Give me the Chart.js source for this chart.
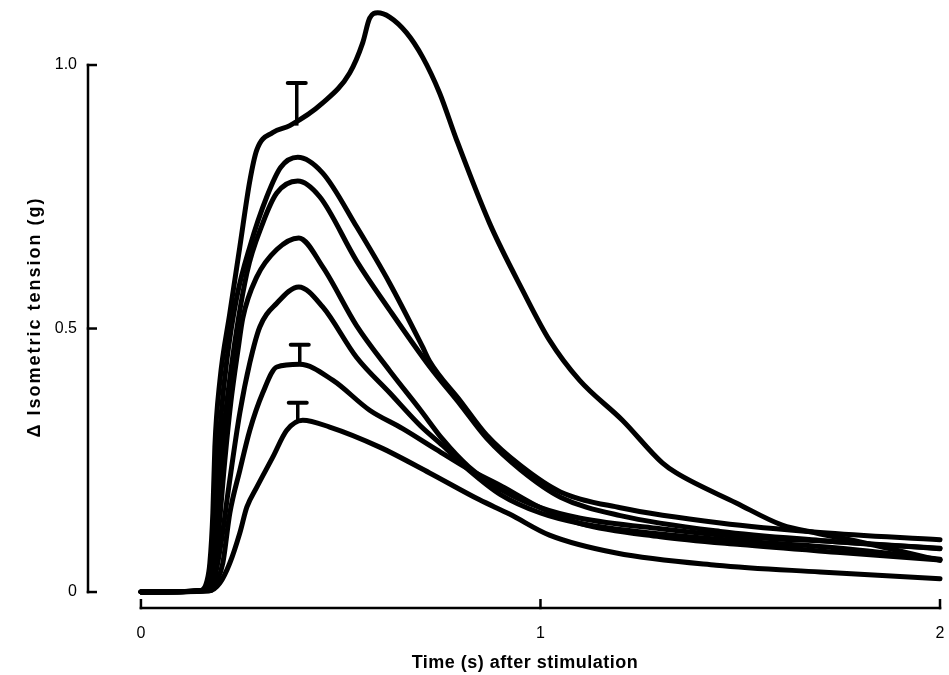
<!DOCTYPE html>
<html>
<head>
<meta charset="utf-8">
<script src="https://cdn.jsdelivr.net/npm/chart.js@4.4.1/dist/chart.umd.min.js"></script>
<style>
html,body{margin:0;padding:0;background:#fff;}
#wrap{width:949px;height:675px;position:relative;}
</style>
</head>
<body>
<div id="wrap"><canvas id="c" width="949" height="675"></canvas></div>
<script>
// ---------- data (time in s, tension in g) ----------
const tA = [0, 0.15, 0.165, 0.1725, 0.18, 0.185, 0.1975, 0.2225, 0.2475, 0.2725, 0.29, 0.33, 0.3725, 0.455, 0.5225, 0.555, 0.5725, 0.5925, 0.6225, 0.665, 0.705, 0.7475, 0.79, 0.8725, 0.955, 1.0225, 1.0975, 1.205, 1.305, 1.34, 1.49, 1.605, 1.69, 1.8, 2.0];
const vA = [0, 0.003, 0.02, 0.055, 0.15, 0.275, 0.40, 0.529, 0.655, 0.78, 0.839, 0.872, 0.885, 0.928, 0.985, 1.042, 1.089, 1.099, 1.091, 1.061, 1.015, 0.947, 0.858, 0.70, 0.573, 0.478, 0.402, 0.326, 0.245, 0.226, 0.169, 0.127, 0.112, 0.095, 0.06];

const tB = [0, 0.155, 0.17, 0.18, 0.19, 0.2, 0.215, 0.24, 0.2725, 0.315, 0.35, 0.3925, 0.455, 0.54, 0.6225, 0.705, 0.7225, 0.8, 0.865, 0.95, 1.05, 1.2, 1.45, 1.7, 2.0];
const vB = [0, 0.003, 0.03, 0.1, 0.22, 0.33, 0.44, 0.56, 0.655, 0.75, 0.806, 0.825, 0.795, 0.693, 0.586, 0.465, 0.438, 0.362, 0.298, 0.24, 0.19, 0.16, 0.131, 0.113, 0.099];

const tC = [0, 0.158, 0.175, 0.188, 0.2, 0.225, 0.265, 0.305, 0.34, 0.3925, 0.4475, 0.54, 0.6225, 0.7225, 0.8, 0.865, 0.95, 1.05, 1.2, 1.45, 1.7, 2.0];
const vC = [0, 0.003, 0.03, 0.12, 0.25, 0.42, 0.605, 0.70, 0.757, 0.78, 0.75, 0.628, 0.535, 0.428, 0.355, 0.292, 0.232, 0.18, 0.145, 0.115, 0.098, 0.082];

const tD = [0, 0.16, 0.18, 0.195, 0.21, 0.225, 0.243, 0.255, 0.29, 0.34, 0.395, 0.455, 0.54, 0.6225, 0.7, 0.755, 0.82, 0.9, 1.0, 1.1, 1.3, 1.5, 1.75, 2.0];
const vD = [0, 0.003, 0.03, 0.12, 0.25, 0.36, 0.46, 0.52, 0.598, 0.65, 0.672, 0.617, 0.505, 0.42, 0.345, 0.29, 0.238, 0.195, 0.16, 0.14, 0.12, 0.105, 0.095, 0.083];

const tE = [0, 0.165, 0.185, 0.2, 0.22, 0.2475, 0.2725, 0.2975, 0.34, 0.395, 0.455, 0.54, 0.6225, 0.7, 0.755, 0.82, 0.9, 1.0, 1.1, 1.3, 1.5, 1.75, 2.0];
const vE = [0, 0.003, 0.03, 0.09, 0.2, 0.34, 0.435, 0.503, 0.548, 0.579, 0.541, 0.445, 0.378, 0.315, 0.278, 0.232, 0.185, 0.15, 0.13, 0.11, 0.097, 0.083, 0.062];

const tF = [0, 0.175, 0.19, 0.205, 0.2225, 0.2475, 0.2725, 0.305, 0.34, 0.3975, 0.48, 0.5725, 0.655, 0.74, 0.8225, 0.905, 1.0, 1.1, 1.3, 1.5, 1.75, 2.0];
const vF = [0, 0.003, 0.02, 0.055, 0.15, 0.231, 0.307, 0.378, 0.427, 0.432, 0.402, 0.345, 0.31, 0.27, 0.232, 0.2, 0.16, 0.13, 0.105, 0.09, 0.075, 0.061];

const tG = [0, 0.17, 0.1975, 0.2225, 0.2475, 0.265, 0.29, 0.33, 0.365, 0.405, 0.4725, 0.5975, 0.7225, 0.8475, 0.9225, 1.0225, 1.19, 1.44, 1.7, 2.0];
const vG = [0, 0.002, 0.017, 0.055, 0.112, 0.161, 0.199, 0.256, 0.307, 0.326, 0.313, 0.275, 0.226, 0.175, 0.148, 0.108, 0.074, 0.051, 0.038, 0.025];

// error bars (time, lower end, upper end)
const errT    = [0.39, 0.3975, 0.3925];
const errLow  = [0.885, 0.432, 0.326];
const errHigh = [0.966, 0.469, 0.359];

// axes
const xTickValues = [0, 1, 2];
const xTickLabels = ['0', '1', '2'];
const yTickValues = [0, 0.5, 1.0];
const yTickLabels = ['0', '0.5', '1.0'];
const xTitle = 'Time (s) after stimulation';
const yTitle = '\u0394 Isometric tension (g)';

// ---------- chart ----------
const FONT = "'Liberation Sans', Arial, Helvetica, sans-serif";
Chart.defaults.font.family = FONT;
Chart.defaults.color = '#000';

const curves = [[tA, vA], [tB, vB], [tC, vC], [tD, vD], [tE, vE], [tF, vF], [tG, vG]];
const datasets = curves.map(([t, v]) => ({
  data: t.map((x, i) => ({ x: x, y: v[i] })),
  borderColor: '#000',
  borderWidth: 5,
  pointRadius: 0,
  fill: false,
  cubicInterpolationMode: 'monotone',
  borderCapStyle: 'round',
  borderJoinStyle: 'round',
  clip: false
}));

const decorPlugin = {
  id: 'decor',
  afterDraw(chart) {
    const { ctx, scales: { x, y }, chartArea } = chart;
    ctx.save();
    ctx.strokeStyle = '#000';
    ctx.fillStyle = '#000';
    ctx.lineCap = 'butt';
    // y axis line and inward ticks
    const ax = chartArea.left;
    ctx.lineWidth = 2.5;
    ctx.beginPath();
    ctx.moveTo(ax, y.getPixelForValue(yTickValues[0]) + 1.25);
    ctx.lineTo(ax, y.getPixelForValue(yTickValues[yTickValues.length - 1]) - 1.25);
    ctx.stroke();
    yTickValues.forEach(v => {
      const py = y.getPixelForValue(v);
      ctx.beginPath(); ctx.moveTo(ax - 1.25, py); ctx.lineTo(ax + 9, py); ctx.stroke();
    });
    // x axis line and upward ticks
    const ay = chartArea.bottom;
    ctx.beginPath();
    ctx.moveTo(x.getPixelForValue(xTickValues[0]) - 1.25, ay);
    ctx.lineTo(x.getPixelForValue(xTickValues[xTickValues.length - 1]) + 1.25, ay);
    ctx.stroke();
    xTickValues.forEach(v => {
      const px = x.getPixelForValue(v);
      ctx.beginPath(); ctx.moveTo(px, ay + 1.25); ctx.lineTo(px, ay - 9); ctx.stroke();
    });
    // error bars
    errT.forEach((t, i) => {
      const px = x.getPixelForValue(t);
      const p1 = y.getPixelForValue(errLow[i]);
      const p2 = y.getPixelForValue(errHigh[i]);
      ctx.lineWidth = 3.5;
      ctx.beginPath(); ctx.moveTo(px, p1); ctx.lineTo(px, p2); ctx.stroke();
      ctx.lineWidth = 4;
      ctx.lineCap = 'round';
      ctx.beginPath(); ctx.moveTo(px - 9, p2); ctx.lineTo(px + 9, p2); ctx.stroke();
      ctx.lineCap = 'butt';
    });
    // axis titles
    ctx.textAlign = 'center';
    ctx.textBaseline = 'middle';
    ctx.font = "bold 18px " + FONT;
    ctx.letterSpacing = '0.5px';
    ctx.fillText(xTitle, 525, 663);
    ctx.save();
    ctx.translate(35, 317);
    ctx.rotate(-Math.PI / 2);
    ctx.font = "bold 18px " + FONT;
    ctx.letterSpacing = '2px';
    ctx.fillText(yTitle, 0, 0);
    ctx.restore();
    ctx.restore();
  }
};

new Chart(document.getElementById('c'), {
  type: 'line',
  data: { datasets },
  options: {
    responsive: false,
    animation: false,
    devicePixelRatio: 1,
    layout: { padding: { top: 10, right: 9, bottom: 0, left: 0 } },
    plugins: { legend: { display: false }, tooltip: { enabled: false } },
    scales: {
      x: {
        type: 'linear',
        min: -0.1325,
        max: 2.0,
        afterBuildTicks: s => { s.ticks = xTickValues.map(v => ({ value: v })); },
        afterFit: s => { s.height = 67; },
        ticks: {
          callback: v => xTickLabels[xTickValues.indexOf(v)],
          font: { size: 16 },
          color: '#000',
          padding: 0,
          maxRotation: 0,
          autoSkip: false
        },
        grid: { display: false, drawTicks: true, tickLength: 16 },
        border: { display: false }
      },
      y: {
        type: 'linear',
        min: -0.0303,
        max: 1.1044,
        afterBuildTicks: s => { s.ticks = yTickValues.map(v => ({ value: v })); },
        afterFit: s => { s.width = 88; },
        ticks: {
          callback: v => yTickLabels[yTickValues.indexOf(v)],
          font: { size: 16 },
          color: '#000',
          padding: 0,
          autoSkip: false
        },
        grid: { display: false, drawTicks: true, tickLength: 11 },
        border: { display: false }
      }
    }
  },
  plugins: [decorPlugin]
});
</script>
</body>
</html>
